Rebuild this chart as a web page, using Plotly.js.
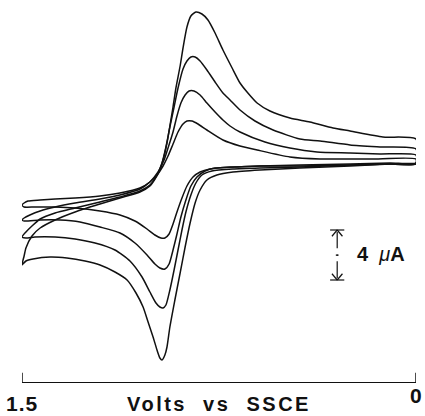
<!DOCTYPE html>
<html>
<head>
<meta charset="utf-8">
<script src="https://cdn.plot.ly/plotly-3.0.1.min.js"></script>
<style>html,body{margin:0;padding:0;background:#fff;}#chart{width:425px;height:416px;}</style>
</head>
<body>
<div id="chart"></div>
<script>
// Potential (V vs SSCE) and current (uA) for four scan rates, smallest to largest.
// Each loop: upper branch (read right to left), then lower branch (left to right).
const scan1V = [0.0,0.175,0.365,0.480,0.605,0.670,0.735,0.796,0.830,0.853,0.872,0.887,0.906,0.925,0.944,0.963,0.986,1.013,1.051,1.127,1.203,1.298,1.374,1.431,1.477,1.492,1.5,
  1.492,1.451,1.374,1.298,1.203,1.127,1.070,1.024,0.994,0.971,0.956,0.940,0.925,0.910,0.891,0.872,0.849,0.822,0.784,0.708,0.594,0.442,0.251,0.099,0.0];
const scan1I = [-0.72,-0.72,-0.72,-0.56,0.0,0.32,0.8,1.6,2.08,2.32,2.32,2.08,1.44,0.48,-0.48,-1.28,-2.0,-2.56,-3.04,-3.44,-3.68,-3.84,-3.92,-4.0,-4.08,-4.24,-4.4,
  -4.56,-4.56,-4.56,-4.64,-4.88,-5.2,-5.68,-6.32,-6.8,-7.04,-7.04,-6.72,-5.92,-4.96,-3.84,-2.88,-2.16,-1.76,-1.52,-1.36,-1.28,-1.2,-1.12,-1.04,-1.04];

const scan2V = [0.0,0.137,0.251,0.377,0.480,0.575,0.670,0.708,0.735,0.765,0.796,0.822,0.845,0.864,0.879,0.895,0.910,0.925,0.944,0.959,0.982,1.013,1.051,1.127,1.203,1.298,1.374,1.431,1.470,1.492,1.5,
  1.492,1.431,1.355,1.279,1.203,1.127,1.070,1.024,0.994,0.975,0.956,0.940,0.925,0.910,0.895,0.876,0.857,0.834,0.803,0.765,0.689,0.594,0.442,0.251,0.099,0.0];
const scan2I = [-0.4,-0.32,-0.24,-0.16,0.16,0.64,1.44,1.92,2.4,3.04,3.76,4.4,4.72,4.72,4.4,3.76,2.72,1.44,0.16,-0.8,-1.76,-2.56,-3.12,-3.6,-3.92,-4.24,-4.56,-4.88,-5.2,-5.44,-5.6,
  -5.68,-5.6,-5.6,-5.76,-6.16,-6.64,-7.44,-8.4,-9.12,-9.44,-9.52,-9.12,-8.0,-6.72,-5.36,-4.0,-2.88,-2.16,-1.68,-1.44,-1.36,-1.28,-1.28,-1.2,-1.12,-1.12];

const scan3V = [0.0,0.137,0.251,0.365,0.442,0.544,0.613,0.670,0.708,0.735,0.765,0.796,0.822,0.841,0.857,0.872,0.887,0.906,0.921,0.937,0.952,0.967,0.986,1.013,1.051,1.127,1.203,1.298,1.374,1.431,1.462,1.485,1.5,
  1.485,1.451,1.374,1.298,1.222,1.146,1.089,1.043,1.013,0.990,0.975,0.963,0.952,0.937,0.921,0.906,0.891,0.876,0.857,0.838,0.815,0.777,0.697,0.594,0.442,0.251,0.099,0.0];
const scan3I = [0.08,0.24,0.4,0.72,0.88,1.6,2.32,3.2,4.0,4.56,5.44,6.4,7.12,7.44,7.44,7.12,6.48,4.96,3.44,1.84,0.24,-1.04,-2.0,-2.8,-3.28,-3.76,-4.16,-4.64,-5.04,-5.52,-6.08,-6.56,-6.96,
  -7.04,-6.96,-6.96,-7.12,-7.44,-8.0,-8.88,-10.16,-11.36,-12.24,-12.56,-12.64,-12.4,-11.2,-9.6,-8.0,-6.4,-4.96,-3.6,-2.64,-2.0,-1.68,-1.52,-1.44,-1.36,-1.2,-1.12,-1.12];

const scan4V = [0.0,0.126,0.251,0.316,0.404,0.480,0.556,0.605,0.640,0.670,0.700,0.735,0.765,0.792,0.815,0.838,0.857,0.872,0.887,0.898,0.914,0.925,0.937,0.948,0.963,0.982,1.013,1.051,1.127,1.203,1.298,1.374,1.431,1.462,1.485,1.492,1.5,
  1.485,1.458,1.393,1.329,1.260,1.203,1.146,1.100,1.066,1.039,1.020,1.001,0.986,0.975,0.967,0.956,0.948,0.937,0.918,0.898,0.879,0.860,0.841,0.822,0.796,0.758,0.697,0.594,0.442,0.251,0.099,0.0];
const scan4I = [0.88,1.04,1.52,1.76,2.24,2.56,3.12,3.76,4.56,5.36,6.56,8.0,9.36,10.4,10.88,11.04,10.72,9.84,8.16,6.72,4.96,3.44,1.92,0.56,-0.8,-1.92,-2.88,-3.36,-3.84,-4.32,-4.96,-5.6,-6.24,-6.88,-7.84,-8.48,-9.2,
  -8.88,-8.72,-8.56,-8.64,-8.88,-9.2,-9.76,-10.4,-11.44,-12.56,-13.76,-14.96,-16.0,-16.64,-16.8,-16.4,-15.76,-14.16,-12.0,-9.84,-7.76,-5.84,-4.24,-3.2,-2.4,-2.0,-1.76,-1.6,-1.44,-1.28,-1.12,-1.04];

const xTickVals = [1.5, 0];
const xTickText = ['1.5', '0'];
const xTitle = 'Volts vs SSCE';
const scaleBarValue = 4;      // uA
const scaleBarUnit = 'μA';

const loops = [[scan1V, scan1I], [scan2V, scan2I], [scan3V, scan3I], [scan4V, scan4I]];
const ink = '#111';

const traces = loops.map(([v, i]) => ({
  x: v.concat([v[0]]),
  y: i.concat([i[0]]),
  type: 'scatter',
  mode: 'lines',
  line: {color: ink, width: 1.5, shape: 'spline', smoothing: 0.6},
  hoverinfo: 'skip',
  showlegend: false
}));

// scale bar (data units)
const sbX = 0.30, sbTop = -6.4, sbBot = sbTop - scaleBarValue;
const hw = 0.027, ah = 0.5;
const ln = (x0, y0, x1, y1) => ({type: 'line', xref: 'x', yref: 'y', x0, y0, x1, y1, line: {color: ink, width: 1.2}});
const shapes = [
  ln(sbX - hw, sbTop, sbX + hw, sbTop),
  ln(sbX - 0.02, sbTop - ah, sbX, sbTop),
  ln(sbX + 0.02, sbTop - ah, sbX, sbTop),
  ln(sbX, sbTop - 0.15, sbX, sbTop - 1.45),
  ln(sbX, sbTop - 2.5, sbX, sbBot + 0.15),
  ln(sbX - hw, sbBot, sbX + hw, sbBot),
  ln(sbX - 0.02, sbBot + ah, sbX, sbBot),
  ln(sbX + 0.02, sbBot + ah, sbX, sbBot),
  {type: 'circle', xref: 'x', yref: 'y', x0: sbX - 0.006, x1: sbX + 0.006, y0: sbTop - 1.93, y1: sbTop - 2.07, fillcolor: ink, line: {width: 0}}
];
// end brackets of the potential axis
xTickVals.forEach(v => shapes.push({type: 'line', xref: 'x', yref: 'paper', x0: v, x1: v, y0: 0, y1: 0.024, line: {color: ink, width: 1.5}}));

const fontFam = '"Liberation Sans", Arial, Helvetica, sans-serif';
const annotations = [
  {x: xTickVals[0], y: -0.055, xref: 'x', yref: 'paper', text: '<b><span style="letter-spacing:1px">' + xTickText[0] + '</span></b>', showarrow: false, xanchor: 'center', yanchor: 'middle', font: {family: fontFam, size: 21, color: ink}},
  {x: xTickVals[1], y: -0.036, xref: 'x', yref: 'paper', text: '<b>' + xTickText[1] + '</b>', showarrow: false, xanchor: 'center', yanchor: 'middle', font: {family: fontFam, size: 21, color: ink}},
  {x: 0.232, y: sbTop - scaleBarValue / 2 + 0.1, xref: 'x', yref: 'y', text: '<b>' + scaleBarValue + '</b>&nbsp;&nbsp;<i>' + scaleBarUnit.charAt(0) + '</i><b>' + scaleBarUnit.slice(1) + '</b>', showarrow: false, xanchor: 'left', yanchor: 'middle', font: {family: fontFam, size: 20, color: ink}}
];

const layout = {
  width: 425, height: 416,
  margin: {l: 22, r: 9, t: 0, b: 34},
  paper_bgcolor: '#fff', plot_bgcolor: '#fff',
  showlegend: false,
  xaxis: {
    range: [1.5, 0], showgrid: false, zeroline: false,
    showline: true, linecolor: ink, linewidth: 1.4,
    ticks: '', tickvals: xTickVals, showticklabels: false,
    title: {text: '<span style="letter-spacing:2.5px">' + xTitle.replace(/ /g, '&nbsp;&nbsp;') + '</span>', font: {family: fontFam, size: 20, color: ink, weight: 'bold'}, standoff: 14}
  },
  yaxis: {range: [-18.56, 12], visible: false, showgrid: false, zeroline: false},
  shapes, annotations
};

Plotly.newPlot('chart', traces, layout, {staticPlot: true, displayModeBar: false});
</script>
</body>
</html>
